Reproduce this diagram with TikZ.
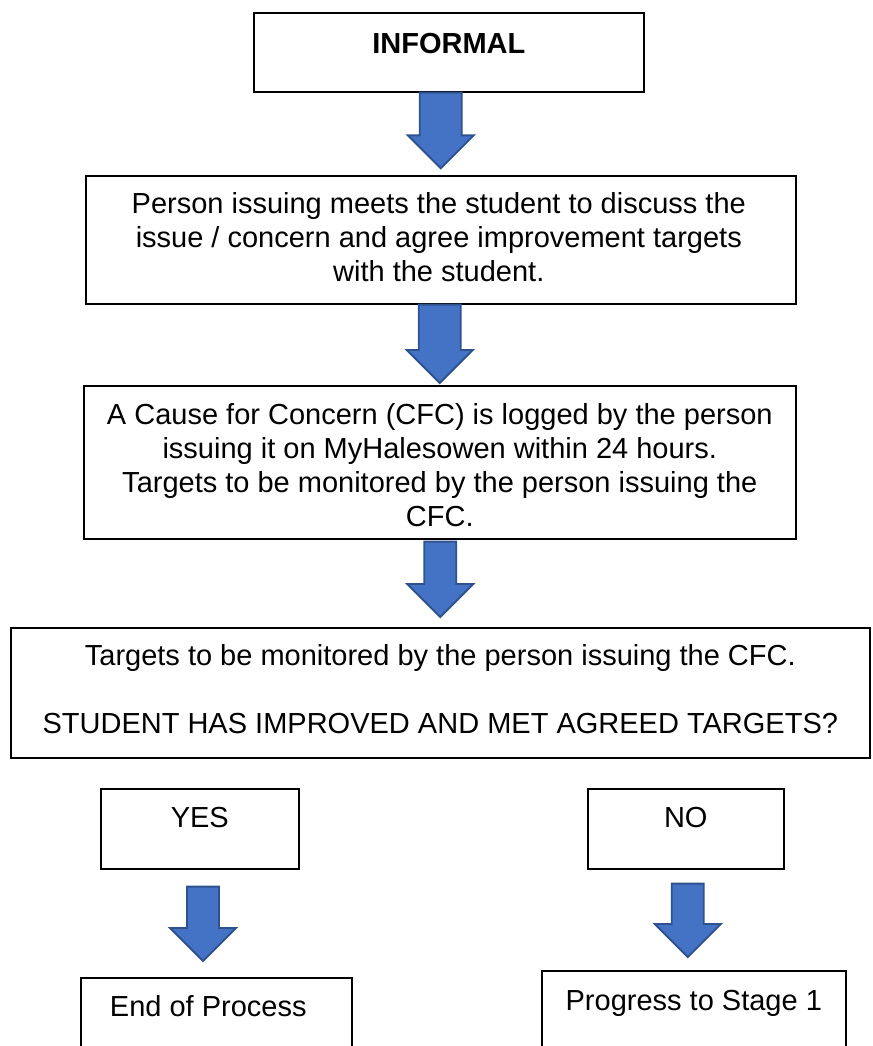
\documentclass[tikz,border=0pt]{standalone}
\usepackage{fontspec}
\setmainfont{Liberation Sans}
\usetikzlibrary{calc, positioning}

\definecolor{arrowfill}{HTML}{4472C4}
\definecolor{arrowline}{HTML}{2F528F}

\tikzset{
  box/.style={draw=black, line width=1.2pt, anchor=north west, inner sep=0pt},
  txt/.style={anchor=north, inner sep=0pt, align=center, font=\fontsize{21.75}{25.5}\selectfont},
  fatarrow/.style={fill=arrowfill, draw=arrowline, line width=1.4pt, line join=miter},
}

% blue block arrow going down from #2 to its tip at #3, #1 = half width of the shaft
\newcommand\fatarrow[3][12pt]{%
  \draw[fatarrow] let \p1=(#2), \p2=(#3) in
    (\x2-#1,\y1) -- (\x2+#1,\y1) -- (\x2+#1,\y2+24.75pt) -- (\x2+24.75pt,\y2+24.75pt)
    -- (\x2,\y2) -- (\x2-24.75pt,\y2+24.75pt) -- (\x2-#1,\y2+24.75pt) -- cycle;
}

\begin{document}
\begin{tikzpicture}[x=.75pt, y=-.75pt]%
  \useasboundingbox (0,0) rectangle (873,1046);
  \clip (0,0) rectangle (873,1046);

  % boxes
  \node[box, minimum width=390*.75pt, minimum height=79*.75pt] (informal) at (253,12) {};
  \node[box, minimum width=710*.75pt, minimum height=128*.75pt] (meet) at (85,175) {};
  \node[box, minimum width=712*.75pt, minimum height=153*.75pt] (logged) at (83,385) {};
  \node[box, minimum width=859*.75pt, minimum height=130*.75pt] (monitor) at (10,627) {};
  \node[box, minimum width=198*.75pt, minimum height=80*.75pt] (yes) at (100,788) {};
  \node[box, minimum width=196*.75pt, minimum height=80*.75pt] (no) at (587,788) {};
  \node[box, minimum width=271*.75pt, minimum height=113*.75pt] (endproc) at (80,977) {};
  \node[box, minimum width=304*.75pt, minimum height=120*.75pt] (stage1) at (541,970) {};

  % texts
  \node[txt] (informal-t) at ([yshift=-16pt]informal.north) {\bfseries INFORMAL};
  \node[txt] (meet-t) at ([xshift=-1.5pt, yshift=-13pt]meet.north)
    {Person issuing meets the student to discuss the\\
     issue / concern and agree improvement targets\\
     with the student.};
  \node[txt] (logged-t) at ([yshift=-13.5pt]logged.north)
    {A Cause for Concern (CFC) is logged by the person\\
     issuing it on MyHalesowen within 24 hours.\\
     Targets to be monitored by the person issuing the\\
     CFC.};
  \node[txt] (monitor-t) at ([yshift=-13pt]monitor.north)
    {Targets to be monitored by the person issuing the CFC.\\[25.5pt]
     STUDENT HAS IMPROVED AND MET AGREED TARGETS?};
  \node[txt] (yes-t) at ([yshift=-14pt]yes.north) {YES};
  \node[txt] (no-t) at ([yshift=-14pt]no.north) {NO};
  \node[txt] (endproc-t) at ([xshift=-6pt, yshift=-13.5pt]endproc.north) {End of Process};
  \node[txt] (stage1-t) at ([yshift=-15pt]stage1.north) {Progress to Stage 1};

  % arrows
  \fatarrow[15.75pt]{informal.south}{[yshift=5pt]meet.north}
  \fatarrow[15.75pt]{meet.south}{[yshift=1.5pt]logged.north}
  \fatarrow{[yshift=-1.5pt]logged.south}{[yshift=7.5pt]monitor.north}
  \fatarrow{[yshift=-12.75pt]yes.south}{[xshift=-10pt, yshift=12pt]endproc.north}
  \fatarrow{[yshift=-10.5pt]no.south}{[xshift=-4.5pt, yshift=9.75pt]stage1.north}
\end{tikzpicture}
\end{document}
